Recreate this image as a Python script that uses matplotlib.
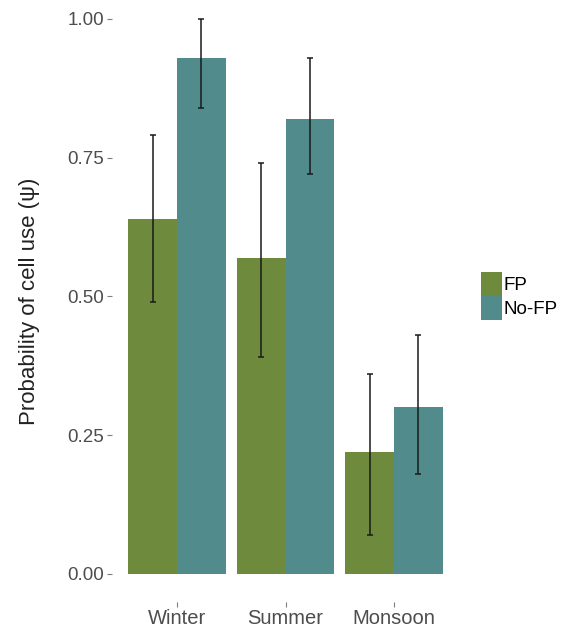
import matplotlib
matplotlib.use("Agg")
import matplotlib.pyplot as plt
import numpy as np
from matplotlib.patches import Patch

plt.rcParams['font.family'] = ['Liberation Sans', 'DejaVu Sans']

seasons = ["Winter", "Summer", "Monsoon"]
groups = ["FP", "No-FP"]
psi_fp = [0.64, 0.57, 0.22]
lo_fp = [0.49, 0.39, 0.07]
hi_fp = [0.79, 0.74, 0.36]
psi_nofp = [0.93, 0.82, 0.30]
lo_nofp = [0.84, 0.72, 0.18]
hi_nofp = [1.00, 0.93, 0.43]
y_ticks = [0.00, 0.25, 0.50, 0.75, 1.00]

colors = {"FP": "#6E8B3D", "No-FP": "#528B8B"}
text_grey = "#4D4D4D"

W, H = 566, 628
fig = plt.figure(figsize=(W / 100, H / 100), dpi=100)

ymin, ymax = -0.05, 1.034
x0, x1 = 0.4, 3.6
left_px, right_px = 112, 459
bottom_px = 601.75
ax = fig.add_axes([left_px / W, (H - bottom_px) / H,
                   (right_px - left_px) / W, bottom_px / H])
ax.set_xlim(x0, x1)
ax.set_ylim(ymin, ymax)

x = np.arange(1, len(seasons) + 1)
bw = 0.45
series = [("FP", psi_fp, lo_fp, hi_fp, -bw / 2),
          ("No-FP", psi_nofp, lo_nofp, hi_nofp, bw / 2)]
for name, vals, lo, hi, off in series:
    vals = np.array(vals)
    err = np.vstack([vals - np.array(lo), np.array(hi) - vals])
    ax.bar(x + off, vals, width=bw, color=colors[name], linewidth=0, zorder=2)
    ax.errorbar(x + off, vals, yerr=err, fmt="none", ecolor="#1A1A1A",
                elinewidth=1.1, capsize=2.3, capthick=1.1, zorder=3)

for s in ax.spines.values():
    s.set_visible(False)
ax.set_xticks(x)
ax.set_xticklabels(seasons)
ax.set_yticks(y_ticks)
ax.set_yticklabels([f"{v:.2f}" for v in y_ticks])
ax.tick_params(axis="both", colors="#7F7F7F", length=3.5, width=0.8,
               labelcolor=text_grey)
ax.tick_params(axis="x", pad=1.5, labelsize=14.5)
ax.tick_params(axis="y", pad=2, labelsize=13.5)
ax.set_ylabel("Probability of cell use (\u03c8)", fontsize=16,
              color="#222222", labelpad=20)

handles = [Patch(facecolor=colors[g], edgecolor="none", label=g) for g in groups]
fig.legend(handles=handles, loc="center left", bbox_to_anchor=(481 / W, 1 - 296 / H),
           frameon=False, fontsize=13.5, handlelength=1.1, handleheight=1.6,
           handletextpad=0.1, labelspacing=0.0, borderaxespad=0, borderpad=0)

fig.savefig("out.png", dpi=100)
